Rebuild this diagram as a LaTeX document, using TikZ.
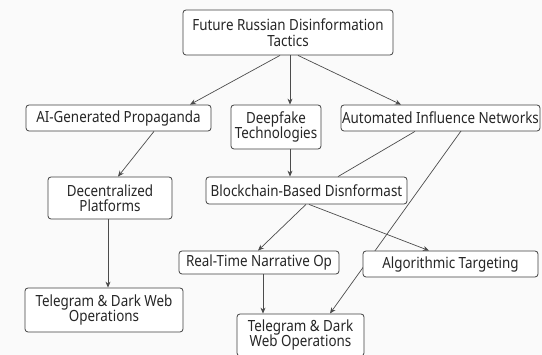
\documentclass[tikz,border=0pt]{standalone}
\usepackage{fontspec}
\setmainfont[FakeStretch=0.87]{Noto Sans}
\usetikzlibrary{arrows.meta}
\begin{document}
\begin{tikzpicture}[x=1pt,y=-1pt,
  box/.style={draw=black!75, line width=0.8pt, rounded corners=3pt, fill=white, align=center,
    inner sep=0pt, font=\fontsize{15.4}{15.5}\selectfont, text=black!85},
  link/.style={draw=black!70, line width=0.7pt, -{Stealth[length=6pt,width=5pt]}},
  plain/.style={draw=black!70, line width=0.7pt}]
\fill[black!2] (0,0) rectangle (542,355);
\useasboundingbox (0,0) rectangle (542,355);
% nodes
\node[box, minimum width=210, minimum height=45] (top) at (288,32.5) {Future Russian Disinformation\\Tactics};
\node[box, minimum width=185, minimum height=26] (ai) at (118.5,118) {AI-Generated Propaganda};
\node[box, minimum width=90, minimum height=44] (deep) at (276,127) {Deepfake\\Technologies};
\node[box, minimum width=199, minimum height=26] (auto) at (440.5,118) {Automated Influence Networks};
\node[box, minimum width=124, minimum height=42] (dec) at (110,198) {Decentralized\\Platforms};
% long line behind algorithmic box
\coordinate (autoB) at (461,131);
\coordinate (tr2) at (330,313.5);
\draw[link] (autoB) -- (tr2);
\node[box, minimum width=201, minimum height=27] (block) at (306.5,190.5) {Blockchain-Based Disnformast};
\node[box, minimum width=160, minimum height=23] (rt) at (259,262.5) {Real-Time Narrative Op};
\node[box, minimum width=175, minimum height=26] (alg) at (450.5,264) {Algorithmic Targeting};
\node[box, minimum width=158, minimum height=44] (tl) at (104,310) {Telegram \& Dark Web\\Operations};
\node[box, minimum width=127, minimum height=42] (tr) at (300.5,335) {Telegram \& Dark\\Web Operations};
% connectors
\draw[link] (top.south -| 280,0) -- (ai.north -| 190,0);
\draw[link] (top.south -| 290,0) -- (deep.north -| 290,0);
\draw[link] (top.south -| 298,0) -- (auto.north -| 401,0);
\draw[link] (ai.south -| 154,0) -- (dec.north -| 118,0);
\draw[link] (deep.south -| 290,0) -- (block.north -| 290,0);
\draw[plain] (auto.south -| 415,0) -- (block.north -| 338,0);
\draw[link] (dec.south -| 108,0) -- (tl.north -| 108,0);
\draw[link] (block.south -| 306,0) -- (rt.north -| 258,0);
\draw[link] (block.south -| 309,0) -- (alg.north -| 429,0);
\draw[link] (rt.south -| 263,0) -- (tr.north -| 263,0);
\end{tikzpicture}
\end{document}
